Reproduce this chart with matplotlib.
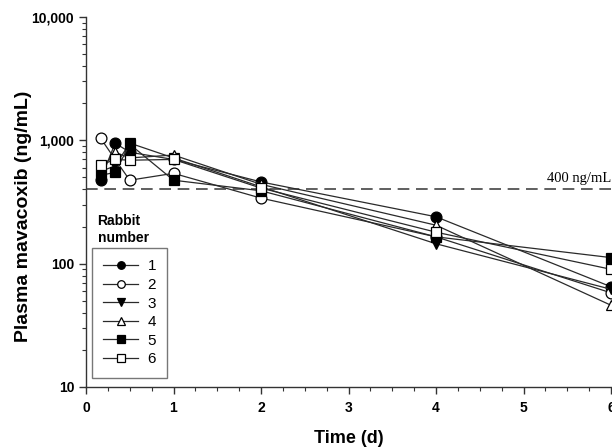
import numpy as np
import matplotlib
matplotlib.use("Agg")
import matplotlib.pyplot as plt
from matplotlib.ticker import FixedLocator, LogLocator, MultipleLocator, NullFormatter

plt.rcParams["font.family"] = ["Liberation Sans", "DejaVu Sans"]

# sampling times (days)
times = [0.167, 0.333, 0.5, 1, 2, 4, 6]

# plasma mavacoxib per rabbit (ng/mL)
rabbit_1 = [480, 950, 800, 700, 460, 240, 65]
rabbit_2 = [1040, 700, 475, 540, 340, 165, 58]
rabbit_3 = [560, 620, 950, 720, 420, 145, 62]
rabbit_4 = [580, 800, 720, 760, 440, 205, 46]
rabbit_5 = [520, 550, 930, 475, 390, 165, 112]
rabbit_6 = [630, 700, 690, 700, 410, 180, 90]

rabbit_labels = ["1", "2", "3", "4", "5", "6"]
threshold = 400

y_ticks = [10, 100, 1000, 10000]
y_ticklabels = ["10", "100", "1,000", "10,000"]
x_ticks = [0, 1, 2, 3, 4, 5, 6]

series = [rabbit_1, rabbit_2, rabbit_3, rabbit_4, rabbit_5, rabbit_6]
markers = ["o", "o", "v", "^", "s", "s"]
faces = ["black", "white", "black", "white", "black", "white"]

fig = plt.figure(figsize=(6.12, 4.47), dpi=100)
ax = fig.add_axes([86 / 612, 1 - 387 / 447, 525 / 612, 370 / 447])

lines = []
for vals, m, fc, lab in zip(series, markers, faces, rabbit_labels):
    ln, = ax.plot(times, vals, color="#2a2a2a", lw=0.9, marker=m, ms=7.8,
                  mfc=fc, mec="black", mew=0.9, label=lab, zorder=3)
    lines.append(ln)

ax.axhline(threshold, color="#444444", lw=1.2, dashes=(7, 4), zorder=1)
ax.text(6, threshold * 1.09, "400 ng/mL", ha="right", va="bottom",
        fontsize=10.5, family=["Liberation Serif", "DejaVu Serif"])

ax.set_yscale("log")
ax.set_ylim(10, 10000)
ax.set_xlim(0, 6)
ax.yaxis.set_major_locator(FixedLocator(y_ticks))
ax.set_yticklabels(y_ticklabels)
ax.yaxis.set_minor_locator(LogLocator(base=10, subs=np.arange(2, 10)))
ax.yaxis.set_minor_formatter(NullFormatter())
ax.set_xticks(x_ticks)
ax.xaxis.set_minor_locator(MultipleLocator(0.25))

for side in ["top", "right"]:
    ax.spines[side].set_visible(False)
for side in ["left", "bottom"]:
    ax.spines[side].set_linewidth(1.0)
    ax.spines[side].set_color("#333333")

ax.tick_params(which="major", direction="out", length=5, width=1, colors="#333333",
               labelcolor="black", labelsize=10)
ax.tick_params(which="minor", direction="out", length=3, width=0.8, colors="#333333")
for t in ax.get_xticklabels() + ax.get_yticklabels():
    t.set_fontweight("bold")
ax.tick_params(axis="x", pad=5)

ax.set_xlabel("Time (d)", fontsize=13, fontweight="bold", labelpad=11)
ax.set_ylabel("Plasma mavacoxib (ng/mL)", fontsize=14, fontweight="bold")
ax.yaxis.set_label_coords(-0.103, 0.46)

leg = ax.legend(handles=lines, loc="upper left", bbox_to_anchor=(0.011, 0.376),
                frameon=True, fancybox=False, edgecolor="#555555", fontsize=11,
                markerscale=0.7, handlelength=2.3, handletextpad=0.6,
                labelspacing=0.3, borderpad=0.75, borderaxespad=0)
leg.get_frame().set_linewidth(1.0)
ax.text(0.022, 0.385, "Rabbit\nnumber", transform=ax.transAxes, ha="left", va="bottom",
        fontsize=10, fontweight="bold", linespacing=1.2)

fig.savefig("out.png", dpi=100)
